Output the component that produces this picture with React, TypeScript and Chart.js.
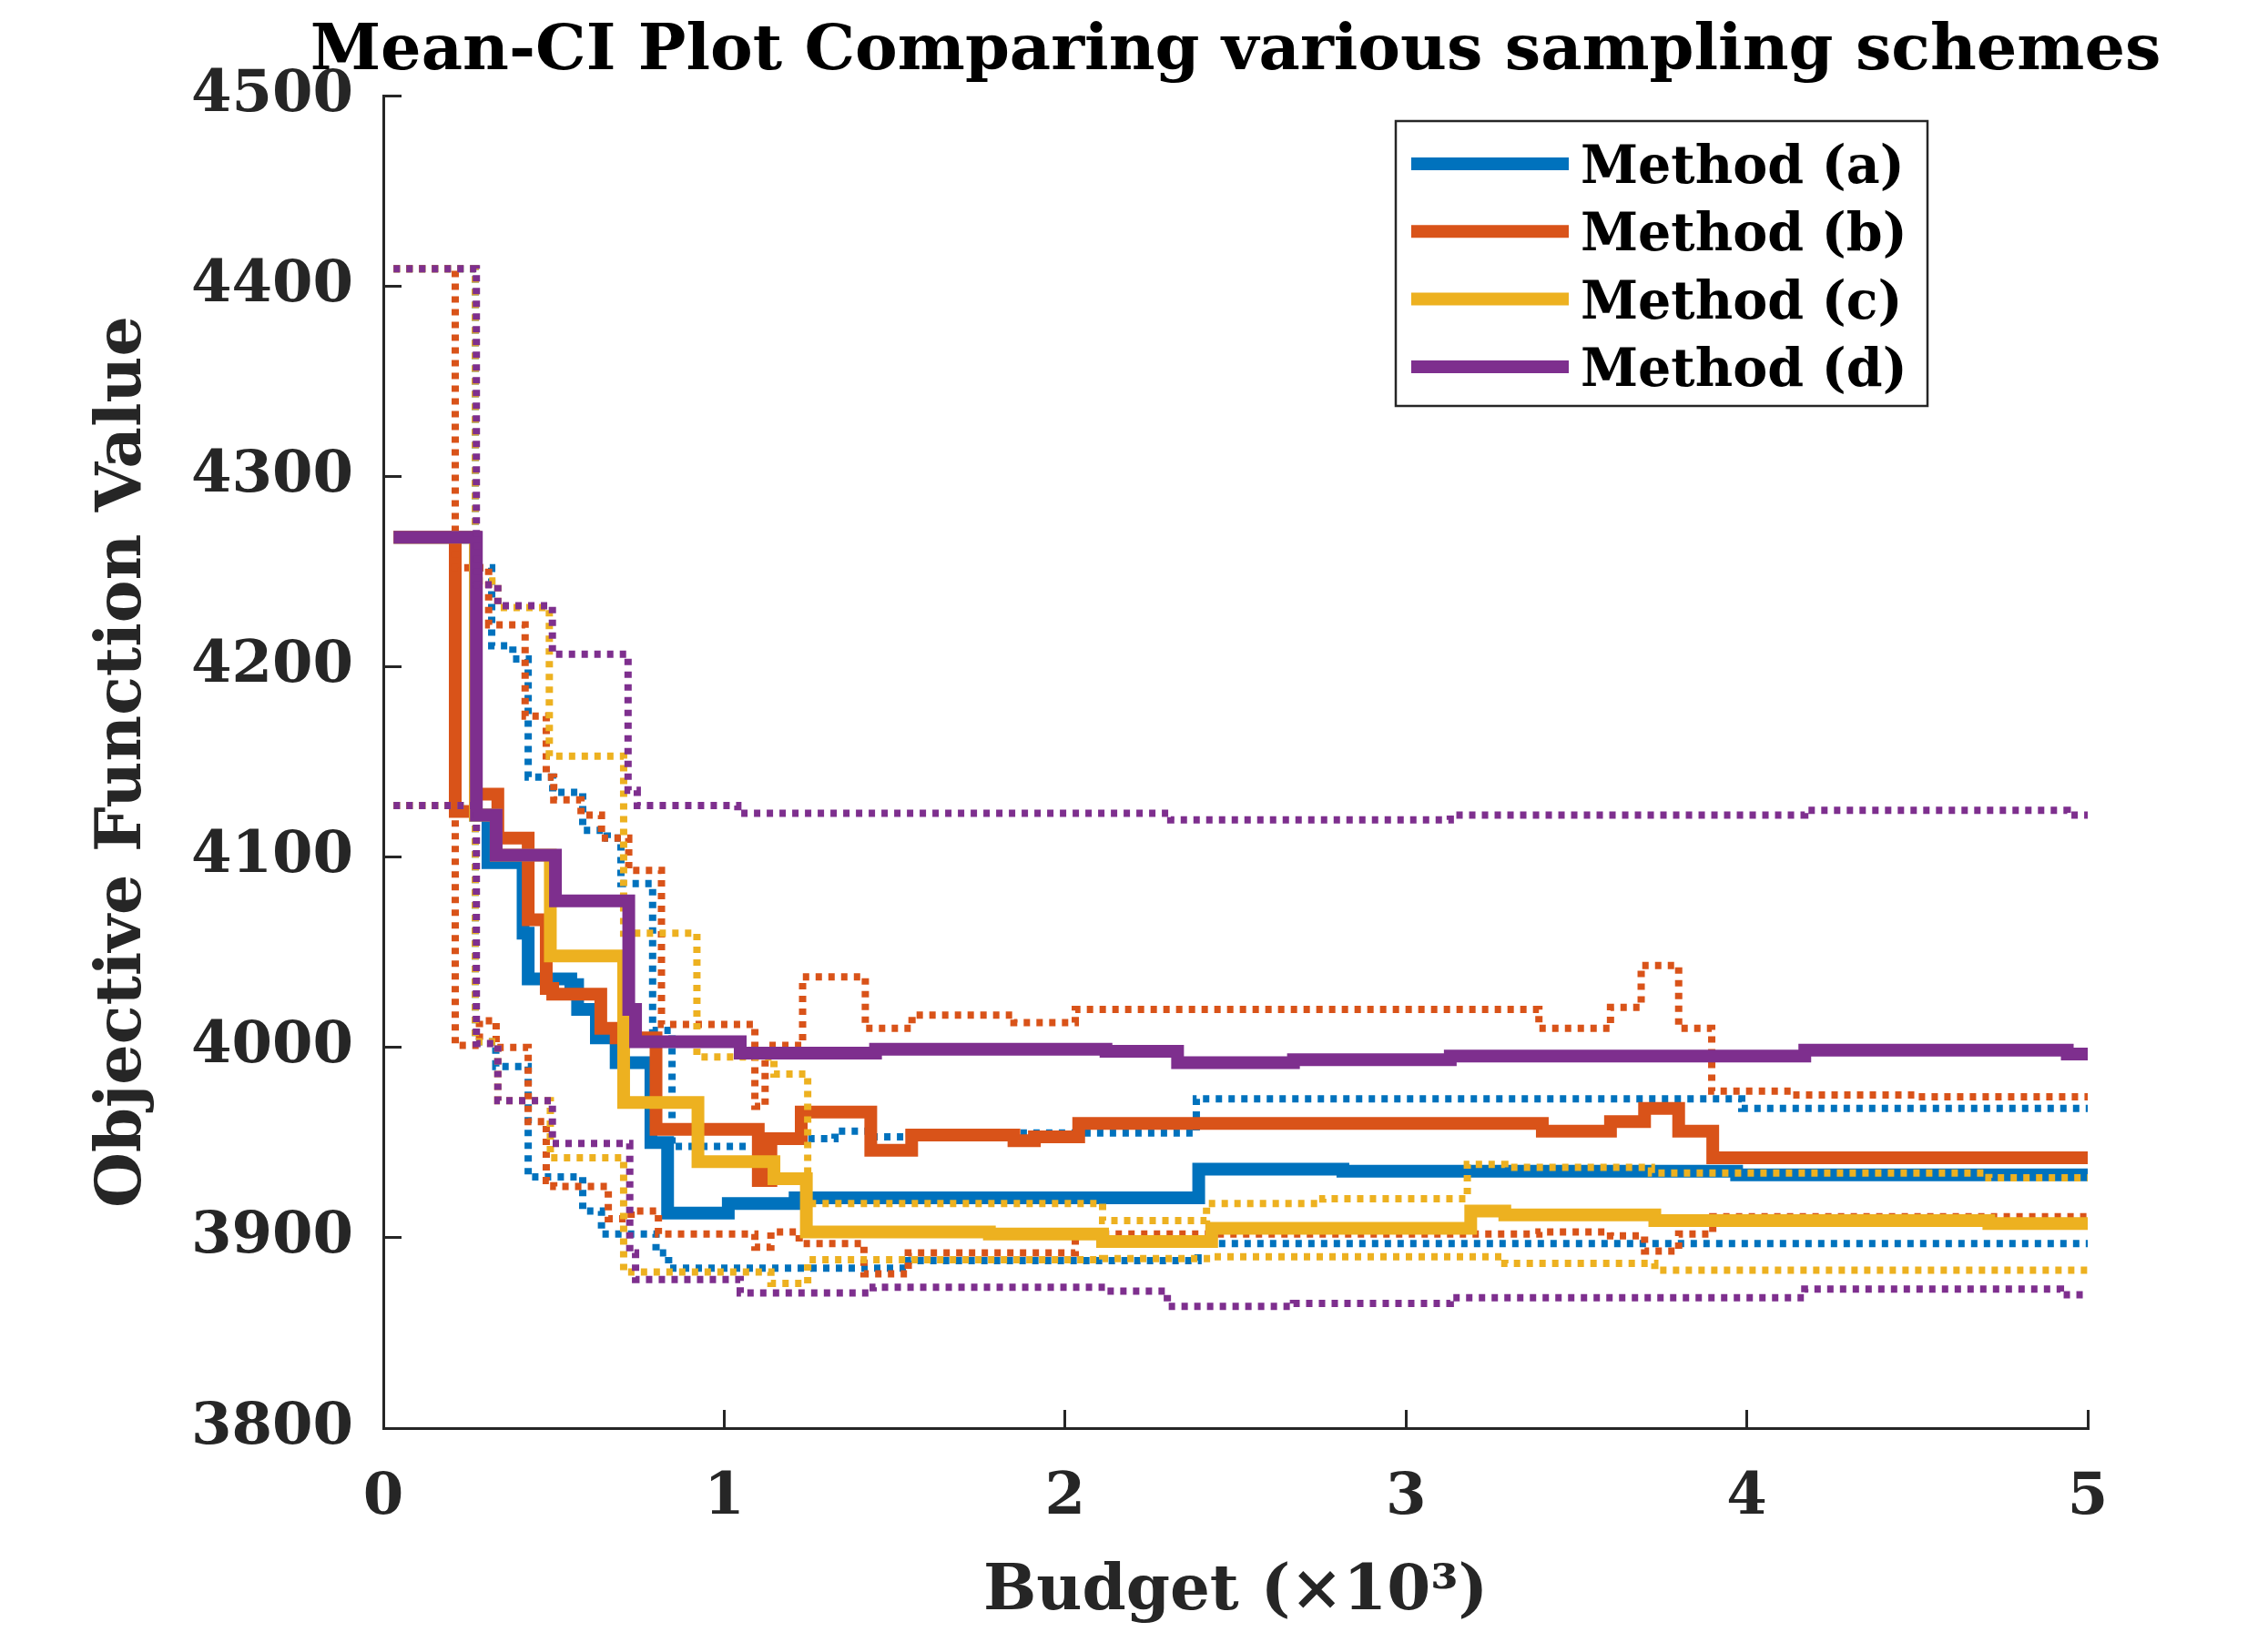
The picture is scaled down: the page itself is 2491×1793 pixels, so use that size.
import React, { useEffect, useRef } from "react";
import { Chart, registerables } from "chart.js";

Chart.register(...registerables);

// ---------- text ----------
const TITLE = "Mean-CI Plot Comparing various sampling schemes";
const X_TITLE = "Budget (\u00d710\u00b3)";
const Y_TITLE = "Objective Function Value";
const METHOD_LABELS = ["Method (a)", "Method (b)", "Method (c)", "Method (d)"];
const METHOD_COLORS = ["#0072BD", "#D95319", "#EDB120", "#7E2F8E"];
const X_TICKS = [0, 1, 2, 3, 4, 5];
const Y_TICKS = [3800, 3900, 4000, 4100, 4200, 4300, 4400, 4500];

// ---------- data (budget in thousands, stair steps: value holds from x until next x) ----------
const A_MEAN_X = [0.03, 0.27, 0.307, 0.41, 0.425, 0.55, 0.57, 0.625, 0.683, 0.785, 0.834, 1.012, 1.208, 2.392, 2.815, 3.97, 5.0];
const A_MEAN_Y = [4268, 4122, 4097, 4060, 4036, 4033, 4020, 4005, 3992, 3950, 3913, 3918, 3921, 3936, 3935, 3933, 3933];
const A_UP_X = [0.03, 0.27, 0.318, 0.38, 0.425, 0.497, 0.585, 0.657, 0.697, 0.79, 0.847, 1.146, 1.325, 1.43, 1.53, 2.385, 3.985, 5.0];
const A_UP_Y = [4409, 4252, 4211, 4204, 4142, 4134, 4114, 4110, 4086, 4009, 3948, 3952, 3956, 3953, 3955, 3973, 3968, 3968];
const A_LO_X = [0.03, 0.27, 0.33, 0.425, 0.585, 0.64, 0.8, 0.837, 1.54, 2.39, 5.0];
const A_LO_Y = [4127, 4003, 3990, 3932, 3914, 3902, 3892, 3884, 3888, 3897, 3897];

const B_MEAN_X = [0.03, 0.211, 0.27, 0.336, 0.425, 0.478, 0.497, 0.638, 0.683, 0.8, 1.1, 1.137, 1.226, 1.43, 1.55, 1.85, 1.91, 2.04, 3.4, 3.6, 3.7, 3.8, 3.9, 5.0];
const B_MEAN_Y = [4268, 4124, 4133, 4110, 4067, 4031, 4028, 4010, 4005, 3957, 3930, 3952, 3966, 3946, 3954, 3951, 3953, 3960, 3956, 3961, 3968, 3956, 3942, 3942];
const B_UP_X = [0.03, 0.211, 0.309, 0.416, 0.478, 0.5, 0.58, 0.64, 0.72, 0.816, 1.09, 1.12, 1.23, 1.414, 1.551, 1.85, 2.03, 3.39, 3.6, 3.69, 3.8, 3.897, 4.13, 4.5, 5.0];
const B_UP_Y = [4409, 4252, 4222, 4174, 4142, 4130, 4122, 4110, 4093, 4012, 3969, 4001, 4037, 4010, 4017, 4013, 4020, 4010, 4021, 4043, 4010, 3977, 3975, 3974, 3974];
const B_LO_X = [0.03, 0.211, 0.282, 0.331, 0.425, 0.478, 0.5, 0.66, 0.727, 0.807, 1.09, 1.137, 1.22, 1.41, 1.54, 2.03, 3.39, 3.6, 3.7, 3.8, 3.9, 5.0];
const B_LO_Y = [4127, 4001, 4014, 4000, 3961, 3930, 3927, 3910, 3914, 3902, 3895, 3903, 3897, 3881, 3892, 3902, 3903, 3901, 3893, 3902, 3911, 3911];

const C_MEAN_X = [0.03, 0.27, 0.331, 0.49, 0.705, 0.923, 1.146, 1.241, 1.778, 2.11, 2.43, 3.19, 3.29, 3.73, 4.71, 5.0];
const C_MEAN_Y = [4268, 4122, 4101, 4048, 3971, 3940, 3931, 3903, 3902, 3898, 3905, 3914, 3912, 3909, 3907.5, 3907.5];
const C_UP_X = [0.03, 0.27, 0.336, 0.487, 0.705, 0.92, 1.146, 1.245, 2.11, 2.415, 2.756, 3.18, 3.29, 3.72, 4.71, 5.0];
const C_UP_Y = [4409, 4245, 4231, 4153, 4060, 3995, 3986, 3918, 3909, 3918, 3920.5, 3938.5, 3937, 3934, 3931.5, 3931.5];
const C_LO_X = [0.03, 0.27, 0.336, 0.49, 0.705, 1.137, 1.245, 2.11, 2.43, 3.29, 3.73, 5.0];
const C_LO_Y = [4127, 4003, 3972, 3942, 3882, 3876, 3888.5, 3889, 3890, 3886.5, 3883, 3883];

const D_MEAN_X = [0.03, 0.273, 0.331, 0.505, 0.72, 0.74, 1.047, 1.444, 2.12, 2.33, 2.67, 3.13, 4.17, 4.94, 5.0];
const D_MEAN_Y = [4268, 4122, 4101, 4077, 4020, 4003, 3997, 3999, 3998, 3992, 3993.5, 3995.5, 3998.5, 3996.5, 3996.5];
const D_UP_X = [0.03, 0.273, 0.336, 0.496, 0.718, 0.745, 1.04, 2.31, 3.13, 4.17, 4.94, 5.0];
const D_UP_Y = [4409, 4243, 4232, 4206.5, 4135, 4127, 4123, 4119.5, 4122, 4124.5, 4122, 4122];
const D_LO_X = [0.03, 0.273, 0.336, 0.496, 0.723, 0.74, 1.047, 1.437, 2.12, 2.3, 2.67, 3.13, 4.17, 4.92, 5.0];
const D_LO_Y = [4127, 4002, 3972, 3949.5, 3892, 3878, 3871, 3874, 3872, 3864, 3865.5, 3868.5, 3873, 3870, 3870];

// ---------- styling ----------
const FONT = '"DejaVu Serif", "Liberation Serif", serif';
const INK = "#262626";

const titlePlugin = {
  id: "topTitle",
  afterDraw(chart: any) {
    const { ctx, chartArea } = chart;
    ctx.save();
    ctx.font = `bold 70px ${FONT}`;
    ctx.fillStyle = "#000";
    ctx.textAlign = "center";
    ctx.textBaseline = "alphabetic";
    ctx.fillText(TITLE, (chartArea.left + chartArea.right) / 2, 76);
    ctx.restore();
  },
};

const boxLegend = {
  id: "boxLegend",
  afterDraw(chart: any) {
    const { ctx, chartArea } = chart;
    const bx = chartArea.left + 1112;
    const by = chartArea.top + 28;
    const bw = 584;
    const bh = 313;
    ctx.save();
    ctx.fillStyle = "#fff";
    ctx.fillRect(bx, by, bw, bh);
    ctx.strokeStyle = INK;
    ctx.lineWidth = 2.5;
    ctx.strokeRect(bx, by, bw, bh);
    METHOD_LABELS.forEach((label, i) => {
      const cy = by + 47 + i * 74.3;
      ctx.strokeStyle = METHOD_COLORS[i];
      ctx.lineWidth = 14;
      ctx.lineCap = "butt";
      ctx.beginPath();
      ctx.moveTo(bx + 17, cy);
      ctx.lineTo(bx + 190, cy);
      ctx.stroke();
      ctx.fillStyle = "#000";
      ctx.font = `bold 57px ${FONT}`;
      ctx.textAlign = "left";
      ctx.textBaseline = "alphabetic";
      ctx.fillText(label, bx + 203, cy + 21);
    });
    ctx.restore();
  },
};

export default function App() {
  const ref = useRef<HTMLCanvasElement>(null);

  useEffect(() => {
    const canvas = ref.current;
    if (!canvas) return;
    const series = [
      { m: 0, kind: "mean", xs: A_MEAN_X, ys: A_MEAN_Y },
      { m: 0, kind: "upper", xs: A_UP_X, ys: A_UP_Y },
      { m: 0, kind: "lower", xs: A_LO_X, ys: A_LO_Y },
      { m: 1, kind: "mean", xs: B_MEAN_X, ys: B_MEAN_Y },
      { m: 1, kind: "upper", xs: B_UP_X, ys: B_UP_Y },
      { m: 1, kind: "lower", xs: B_LO_X, ys: B_LO_Y },
      { m: 2, kind: "mean", xs: C_MEAN_X, ys: C_MEAN_Y },
      { m: 2, kind: "upper", xs: C_UP_X, ys: C_UP_Y },
      { m: 2, kind: "lower", xs: C_LO_X, ys: C_LO_Y },
      { m: 3, kind: "mean", xs: D_MEAN_X, ys: D_MEAN_Y },
      { m: 3, kind: "upper", xs: D_UP_X, ys: D_UP_Y },
      { m: 3, kind: "lower", xs: D_LO_X, ys: D_LO_Y },
    ];
    const datasets = series.map((s, i) => ({
      label:
        s.kind === "mean"
          ? METHOD_LABELS[s.m]
          : `${METHOD_LABELS[s.m]} ${s.kind === "upper" ? "upper" : "lower"} CI`,
      data: s.xs.map((x, j) => ({ x, y: s.ys[j] })),
      borderColor: METHOD_COLORS[s.m],
      backgroundColor: METHOD_COLORS[s.m],
      borderWidth: s.kind === "mean" ? 14 : 8,
      borderDash: s.kind === "mean" ? [] : [7, 7],
      borderCapStyle: "butt",
      borderJoinStyle: "miter",
      stepped: "before",
      pointRadius: 0,
      pointHoverRadius: 0,
      fill: false,
      order: 100 - i,
    }));

    const chart = new Chart(canvas, {
      type: "line",
      data: { datasets } as any,
      plugins: [titlePlugin, boxLegend],
      options: {
        animation: false,
        responsive: false,
        devicePixelRatio: 1,
        layout: { padding: { top: 105, right: 198, left: 0, bottom: 0 } },
        plugins: {
          legend: { display: false },
          title: { display: false },
          tooltip: { enabled: false },
        },
        scales: {
          x: {
            type: "linear",
            min: 0,
            max: 5,
            afterBuildTicks: (s: any) => {
              s.ticks = X_TICKS.map((v) => ({ value: v }));
            },
            afterFit: (s: any) => {
              s.height = 224;
            },
            ticks: {
              color: INK,
              padding: 59,
              autoSkip: false,
              maxRotation: 0,
              font: { family: FONT, size: 64, weight: "bold" },
              callback: (v: any) => String(v),
            },
            grid: {
              drawOnChartArea: false,
              drawTicks: true,
              tickLength: -20,
              color: INK,
              tickColor: INK,
              lineWidth: 3,
              tickWidth: 3,
            },
            border: { display: true, color: INK, width: 3 },
            title: {
              display: true,
              text: X_TITLE,
              color: INK,
              font: { family: FONT, size: 69, weight: "bold", lineHeight: 1 },
              padding: { top: 0, bottom: 8 },
            },
          },
          y: {
            type: "linear",
            min: 3800,
            max: 4500,
            afterBuildTicks: (s: any) => {
              s.ticks = Y_TICKS.map((v) => ({ value: v }));
            },
            afterFit: (s: any) => {
              s.width = 421;
            },
            ticks: {
              color: INK,
              padding: 53,
              autoSkip: false,
              font: { family: FONT, size: 64, weight: "bold" },
              callback: (v: any) => String(v),
            },
            grid: {
              drawOnChartArea: false,
              drawTicks: true,
              tickLength: -20,
              color: INK,
              tickColor: INK,
              lineWidth: 3,
              tickWidth: 3,
            },
            border: { display: true, color: INK, width: 3 },
            title: {
              display: true,
              text: Y_TITLE,
              color: INK,
              font: { family: FONT, size: 70, weight: "bold", lineHeight: 1 },
              padding: { top: 101, bottom: 0 },
            },
          },
        },
      } as any,
    });
    return () => chart.destroy();
  }, []);

  return (
    <div style={{ position: "absolute", left: 0, top: 0, width: 2491, height: 1793, background: "#fff" }}>
      <canvas ref={ref} width={2491} height={1793} style={{ width: 2491, height: 1793, display: "block" }} />
    </div>
  );
}
